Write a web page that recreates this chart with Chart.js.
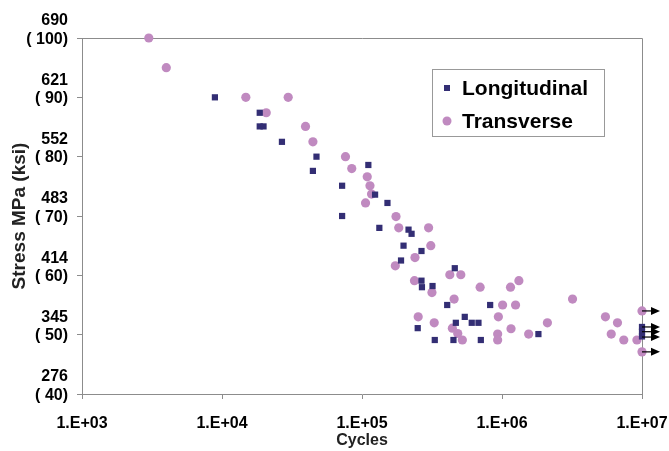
<!DOCTYPE html>
<html>
<head>
<meta charset="utf-8">
<script src="https://cdn.jsdelivr.net/npm/chart.js@4/dist/chart.umd.min.js"></script>
<style>
    html, body { margin: 0; padding: 0; background: #fff; }
    #wrap { width: 669px; height: 451px; }
</style>
</head>
<body>
<div id="wrap"><canvas id="snChart"></canvas></div>
<script>
// S-N data (cycles, stress in ksi)
const longCycles = [8.9e3, 1.86e4, 1.86e4, 1.98e4, 2.68e4, 4.73e4, 4.46e4, 1.11e5, 7.21e4, 1.24e5,
    1.52e5, 7.21e4, 1.33e5, 2.15e5, 2.26e5, 1.98e5, 2.66e5, 1.9e5, 4.6e5, 2.66e5,
    2.68e5, 3.19e5, 4.06e5, 8.23e5, 5.42e5, 4.68e5, 6.08e5, 6.79e5, 2.5e5, 3.31e5,
    4.5e5, 7.06e5, 1.82e6, 1e7, 1e7, 1e7];
const longStress = [90, 87.4, 85.1, 85.1, 82.5, 80.0, 77.6, 78.6, 75.1, 73.6,
    72.2, 70.0, 68.0, 67.7, 67.0, 65.0, 64.1, 62.5, 61.2, 59.1,
    58.0, 58.2, 55.0, 55.0, 53.0, 52.0, 52.0, 52.0, 51.1, 49.1,
    49.1, 49.1, 50.1, 51.3, 50.5, 49.7];

const transCycles = [3.0e3, 4.0e3, 1.48e4, 2.07e4, 2.97e4, 3.95e4, 4.46e4, 7.62e4, 8.45e4, 1.09e5,
    1.14e5, 1.17e5, 1.06e5, 1.75e5, 1.83e5, 2.99e5, 3.1e5, 2.39e5, 1.73e5, 2.37e5,
    3.16e5, 4.24e5, 5.08e5, 6.98e5, 1.15e6, 1.32e6, 4.55e5, 1.01e6, 1.25e6, 3.19e6,
    2.52e5, 3.28e5, 9.42e5, 4.42e5, 4.83e5, 5.21e5, 1.16e6, 2.11e6, 9.31e5, 9.31e5,
    1.55e6, 5.48e6, 6.68e6, 6.03e6, 7.41e6, 9.2e6, 1e7, 1e7];
const transStress = [100, 95.0, 90, 87.4, 90, 85.1, 82.5, 80, 78, 76.6,
    75.1, 73.7, 72.2, 69.9, 68, 68, 65, 63, 61.6, 59.1,
    57.1, 60.1, 60.1, 58, 58, 59.1, 56, 55, 55, 56,
    53, 52, 53, 51.1, 50.2, 49.1, 51, 52, 50.1, 49.1,
    50.1, 53, 52, 50.1, 49.1, 49.1, 54, 47.1];

// run-outs (did not fail) at the end of the test
const runoutCycles = 1e7;
const runoutStress = [54.0, 51.3, 50.5, 49.6, 47.1];

const xTicks = [1e3, 1e4, 1e5, 1e6, 1e7];
const ksiTicks = [40, 50, 60, 70, 80, 90, 100];
const mpaLabels = ['276', '345', '414', '483', '552', '621', '690'];

const LONG_COLOR = '#332e74';
const TRANS_COLOR = '#c08ac0';
const AXIS_COLOR = '#8c8c8c';
const FONT = 'Liberation Sans, Arial, sans-serif';

function toPoints(xs, ys) {
    return xs.map((x, i) => ({ x: x, y: ys[i] }));
}

// box round the plot area
const framePlugin = {
    id: 'frame',
    beforeDatasetsDraw(chart) {
        const { ctx, chartArea: a } = chart;
        ctx.save();
        ctx.strokeStyle = AXIS_COLOR;
        ctx.lineWidth = 1;
        ctx.beginPath();
        ctx.moveTo(a.left, a.top + 0.5);
        ctx.lineTo(a.right + 0.5, a.top + 0.5);
        ctx.lineTo(a.right + 0.5, a.bottom);
        ctx.stroke();
        ctx.restore();
    }
};

// arrows for run-out specimens
const runoutPlugin = {
    id: 'runouts',
    afterDatasetsDraw(chart) {
        const { ctx, scales } = chart;
        const x0 = scales.x.getPixelForValue(runoutCycles);
        ctx.save();
        ctx.strokeStyle = '#000';
        ctx.fillStyle = '#000';
        ctx.lineWidth = 1.2;
        runoutStress.forEach(v => {
            const y = scales.y.getPixelForValue(v);
            ctx.beginPath();
            ctx.moveTo(x0, y);
            ctx.lineTo(x0 + 10, y);
            ctx.stroke();
            ctx.beginPath();
            ctx.moveTo(x0 + 9, y - 4);
            ctx.lineTo(x0 + 18, y);
            ctx.lineTo(x0 + 9, y + 4);
            ctx.closePath();
            ctx.fill();
        });
        ctx.restore();
    }
};

// legend box inside the plot
const boxLegendPlugin = {
    id: 'boxLegend',
    afterDraw(chart) {
        const ctx = chart.ctx;
        const left = 432, top = 69, w = 172, h = 67;
        ctx.save();
        ctx.fillStyle = '#fff';
        ctx.fillRect(left, top, w, h);
        ctx.strokeStyle = '#999';
        ctx.lineWidth = 1;
        ctx.strokeRect(left + 0.5, top + 0.5, w, h);
        ctx.font = 'bold 21px ' + FONT;
        ctx.textBaseline = 'middle';
        chart.data.datasets.forEach((ds, i) => {
            const y = top + 19 + i * 33;
            ctx.fillStyle = ds.backgroundColor;
            if (ds.pointStyle === 'rect') {
                ctx.fillRect(left + 12, y - 3, 6, 6);
            } else {
                ctx.beginPath();
                ctx.arc(left + 15, y, 4.5, 0, Math.PI * 2);
                ctx.fill();
            }
            ctx.fillStyle = '#000';
            ctx.fillText(ds.label, left + 30, y + 1);
        });
        ctx.restore();
    }
};

const ctx = document.getElementById('snChart').getContext('2d');
new Chart(ctx, {
    type: 'scatter',
    data: {
        datasets: [{
            label: 'Longitudinal',
            data: toPoints(longCycles, longStress),
            pointStyle: 'rect',
            pointRadius: 4.4,
            backgroundColor: LONG_COLOR,
            borderColor: LONG_COLOR,
            borderWidth: 0,
            clip: false
        }, {
            label: 'Transverse',
            data: toPoints(transCycles, transStress),
            pointStyle: 'circle',
            pointRadius: 4.6,
            backgroundColor: TRANS_COLOR,
            borderColor: TRANS_COLOR,
            borderWidth: 0,
            clip: false
        }]
    },
    options: {
        responsive: true,
        maintainAspectRatio: false,
        animation: false,
        layout: { padding: { left: 0, right: 27, top: 38, bottom: 0 } },
        plugins: {
            legend: { display: false },
            tooltip: { enabled: false }
        },
        scales: {
            x: {
                type: 'logarithmic',
                min: 1e3,
                max: 1e7,
                afterBuildTicks(scale) {
                    scale.ticks = xTicks.map(v => ({ value: v, major: true }));
                },
                afterFit(scale) {
                    scale.height = 57;
                    scale.paddingLeft = 0;
                    scale.paddingRight = 0;
                },
                grid: {
                    display: true,
                    drawOnChartArea: false,
                    drawTicks: true,
                    tickLength: 5,
                    color: AXIS_COLOR
                },
                border: { color: AXIS_COLOR },
                ticks: {
                    autoSkip: false,
                    maxRotation: 0,
                    padding: 15,
                    color: '#000',
                    font: { family: FONT, size: 16, weight: 'bold' },
                    callback: v => '1.E+' + String(Math.round(Math.log10(v))).padStart(2, '0')
                },
                title: {
                    display: true,
                    text: 'Cycles',
                    color: '#222',
                    font: { family: FONT, size: 16, weight: 'bold' },
                    padding: { top: 0, bottom: 1 }
                }
            },
            y: {
                type: 'linear',
                min: 40,
                max: 100,
                afterBuildTicks(scale) {
                    scale.ticks = ksiTicks.map(v => ({ value: v }));
                },
                afterFit(scale) {
                    scale.width = 82;
                    scale.paddingTop = 0;
                    scale.paddingBottom = 0;
                },
                grid: {
                    display: true,
                    drawOnChartArea: false,
                    drawTicks: true,
                    tickLength: 5,
                    color: AXIS_COLOR
                },
                border: { color: AXIS_COLOR },
                ticks: {
                    autoSkip: false,
                    padding: 9,
                    labelOffset: -8,
                    color: '#000',
                    font: { family: FONT, size: 16, weight: 'bold', lineHeight: 1.15 },
                    callback: (v) => {
                        const i = ksiTicks.indexOf(v);
                        return [mpaLabels[i], '( ' + v + ')'];
                    }
                },
                title: {
                    display: true,
                    text: 'Stress MPa (ksi)',
                    color: '#222',
                    font: { family: FONT, size: 19, weight: 'bold' },
                    padding: { top: 8, bottom: 0 }
                }
            }
        }
    },
    plugins: [framePlugin, runoutPlugin, boxLegendPlugin]
});
</script>
</body>
</html>
